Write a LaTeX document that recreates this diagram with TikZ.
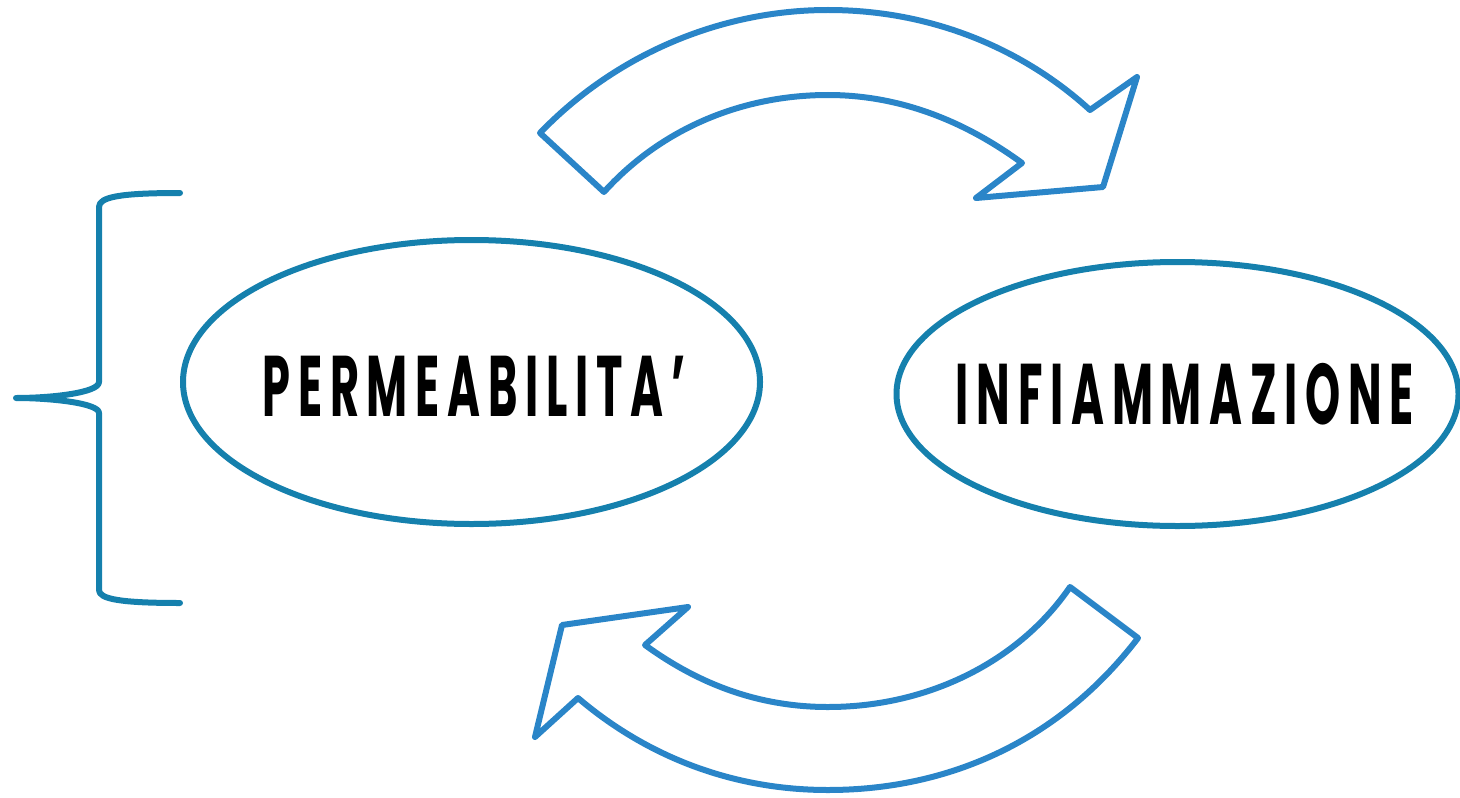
\documentclass[tikz,border=0pt]{standalone}
\usepackage{fontspec}
\usetikzlibrary{shapes.geometric}
\newfontfamily\labfont[FakeStretch=0.52, LetterSpace=9]{Poppins}
\definecolor{teal}{HTML}{1580AD}
\definecolor{arrowblue}{HTML}{2A85C8}
\tikzset{
  oval/.style={ellipse, draw=teal, line width=3pt, inner sep=0pt},
  lab/.style={font=\labfont\bfseries\fontsize{43}{50}\selectfont, text=black},
  bracestyle/.style={draw=teal, line width=3pt, line cap=round, line join=round},
  blockarrow/.style={draw=arrowblue, line width=3pt, line join=round, line cap=round}
}
\begin{document}
\begin{tikzpicture}[x=0.5pt, y=-0.5pt]
\useasboundingbox (0,0) rectangle (1460,797);
% ellipses
\node[oval, minimum width=288.5pt, minimum height=142pt] (perm) at (471.5,382) {};
\node[oval, minimum width=281pt, minimum height=132pt] (infl) at (1177.5,394) {};
\node[lab] (permtext) at (474,386) {PERMEABILITA’};
\node[lab] (infltext) at (1185,394) {INFIAMMAZIONE};
% brace
\coordinate (btop) at (180,193);
\coordinate (bbot) at (180,603);
\coordinate (btip) at (16,398);
\draw[bracestyle] (btop) .. controls (120,193) and (99,197) .. (99,207)
  -- (99,382) .. controls (99,393) and (50,398) .. (btip)
  .. controls (50,398) and (99,403) .. (99,413)
  -- (99,590) .. controls (99,599) and (120,603) .. (bbot);
% top curved arrow
\coordinate (t1) at (540,133);
\coordinate (t2) at (604,192);
\coordinate (t3) at (1022,163);
\coordinate (t4) at (976,198);
\coordinate (t5) at (1103,187);
\coordinate (t6) at (1137,77);
\coordinate (t7) at (1090,110);
\draw[blockarrow] (t1) -- (t2)
  .. controls (660,130) and (740,95) .. (828,95)
  .. controls (905,95) and (970,125) .. (t3)
  -- (t4) -- (t5) -- (t6) -- (t7)
  .. controls (1030,55) and (940,10) .. (828,10)
  .. controls (720,10) and (615,55) .. cycle;
% bottom curved arrow
\coordinate (b1) at (1070,587);
\coordinate (b2) at (1138,638);
\coordinate (b3) at (578,698);
\coordinate (b4) at (535,737);
\coordinate (b5) at (562,625);
\coordinate (b6) at (688,607);
\coordinate (b7) at (645,645);
\draw[blockarrow] (b1) -- (b2)
  .. controls (1060,740) and (950,790) .. (828,790)
  .. controls (730,790) and (645,755) .. (b3)
  -- (b4) -- (b5) -- (b6) -- (b7)
  .. controls (700,685) and (760,707) .. (828,707)
  .. controls (930,707) and (1020,660) .. cycle;
\end{tikzpicture}
\end{document}
